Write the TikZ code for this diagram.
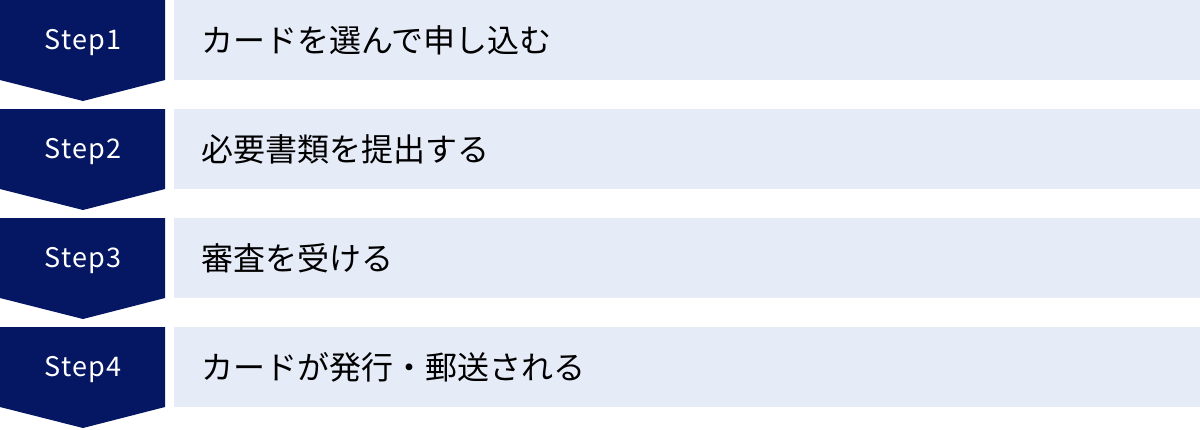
\documentclass[tikz,border=0pt]{standalone}
\usepackage{fontspec}
\setmainfont{Noto Sans CJK JP}
\newfontfamily\stepfont[LetterSpace=5]{Noto Sans CJK JP}
\definecolor{stepnavy}{HTML}{051762}
\definecolor{taskblue}{HTML}{E6EBF8}
\tikzset{
    stepshape/.style={fill=stepnavy},
    steplabel/.style={text=white, inner sep=0pt, font=\stepfont\fontsize{27}{27}\selectfont},
    taskbox/.style={fill=taskblue, anchor=north west, inner xsep=27pt, inner ysep=0pt,
        minimum height=80pt, text width=972pt, align=left,
        font=\fontsize{32}{32}\selectfont},
}
\begin{document}
\begin{tikzpicture}[x=1pt, y=-1pt]% [ show background grid ]
    \useasboundingbox (0,0) rectangle (1200,429);

    \foreach \i/\task in {1/カードを選んで申し込む,
                          2/必要書類を提出する,
                          3/審査を受ける,
                          4/カードが発行・郵送される}{
        \pgfmathsetmacro\top{(\i-1)*109}
        \fill[stepshape] (0,\top) -- (165,\top) -- (165,\top+80)
            -- (83,\top+101) -- (0,\top+80) -- cycle;
        \node[steplabel] (step\i) at (83,\top+43) {Step\i};
        \node[taskbox] (task\i) at (174,\top) {\task};
    }

\end{tikzpicture}
\end{document}
